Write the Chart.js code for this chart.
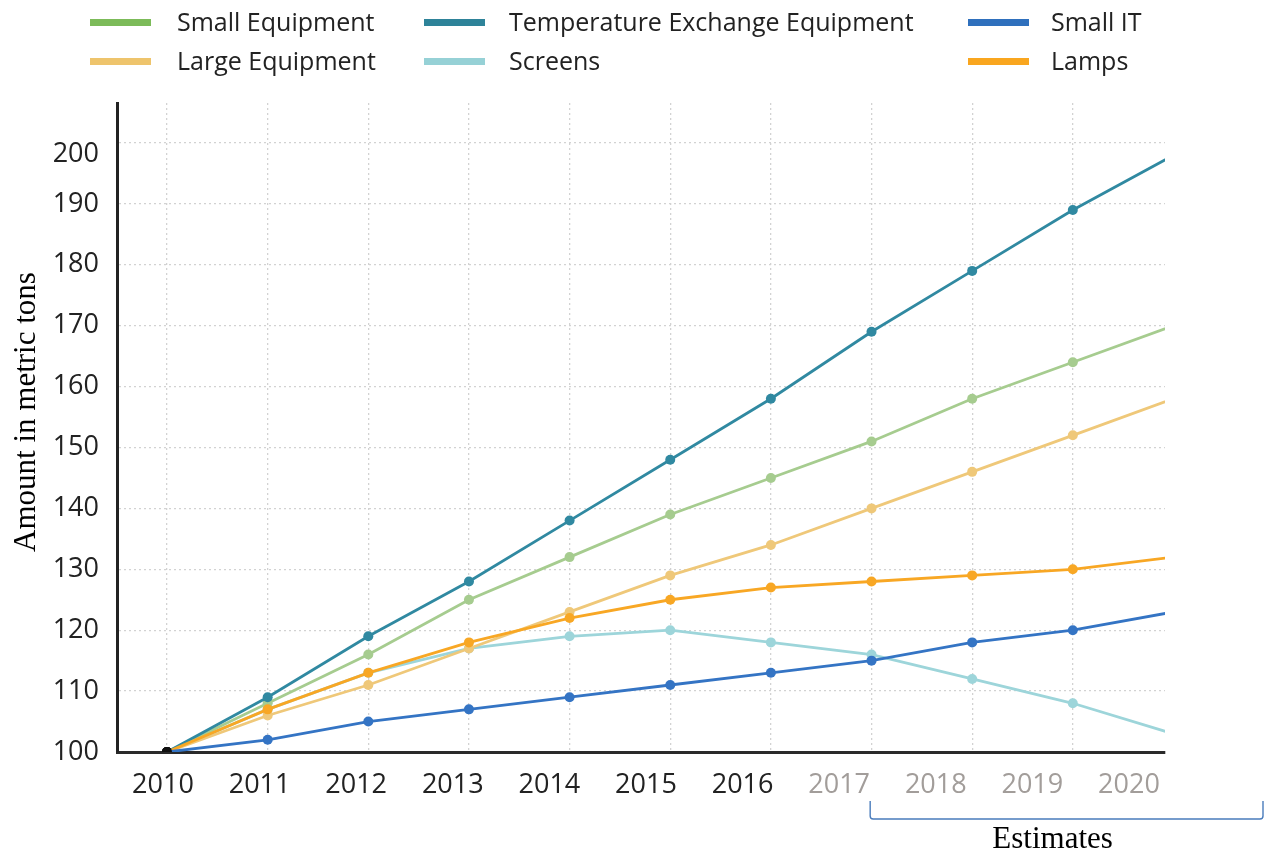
<!DOCTYPE html>
<html>
<head>
<meta charset="utf-8">
<script src="https://cdn.jsdelivr.net/npm/chart.js@4"></script>
<style>
  html, body { margin: 0; padding: 0; background: #fff; }
  #wrap { position: relative; width: 1265px; height: 852px; }
  .leg { position: absolute; font-family: "Open Sans", sans-serif; font-size: 25px; color: #222; white-space: nowrap; }
  .leg .sw { position: absolute; width: 61px; height: 7px; }
  .leg .tx { position: absolute; line-height: 30px; }
</style>
</head>
<body>
<div id="wrap"><canvas id="c"></canvas></div>
<script>
// ---- data ----
const years = [2010, 2011, 2012, 2013, 2014, 2015, 2016, 2017, 2018, 2019, 2020];
const yearLabels = ['2010', '2011', '2012', '2013', '2014', '2015', '2016', '2017', '2018', '2019', '2020'];
const estimateFromYear = 2017;
const seriesNames = ['Small Equipment', 'Large Equipment', 'Temperature Exchange Equipment', 'Screens', 'Small IT', 'Lamps'];
const smallEquipment = [100, 108, 116, 125, 132, 139, 145, 151, 158, 164, 170];
const largeEquipment = [100, 106, 111, 117, 123, 129, 134, 140, 146, 152, 158];
const temperatureExchange = [100, 109, 119, 128, 138, 148, 158, 169, 179, 189, 198];
const screens = [100, 107, 113, 117, 119, 120, 118, 116, 112, 108, 103];
const smallIT = [100, 102, 105, 107, 109, 111, 113, 115, 118, 120, 123];
const lamps = [100, 107, 113, 118, 122, 125, 127, 128, 129, 130, 132];
const yTickValues = [100, 110, 120, 130, 140, 150, 160, 170, 180, 190, 200];

// ---- styles ----
const lineColors = ['#a6cc8f', '#efc879', '#3089a1', '#9dd5da', '#3474c4', '#f8a724'];
const legendColors = ['#7cbb59', '#eec46c', '#2e8399', '#96d1d6', '#2f70bd', '#f9a61f'];
const seriesData = [smallEquipment, largeEquipment, temperatureExchange, screens, smallIT, lamps];
const drawOrder = [4, 5, 3, 6, 1, 2];

const datasets = seriesNames.map((name, i) => ({
  label: name,
  data: years.map((y, k) => ({ x: y, y: seriesData[i][k] })),
  borderColor: lineColors[i],
  backgroundColor: lineColors[i],
  pointBackgroundColor: ctx => ctx.dataIndex === 0 ? '#111' : lineColors[i],
  pointBorderColor: ctx => ctx.dataIndex === 0 ? '#111' : lineColors[i],
  borderWidth: 2.8,
  pointRadius: 5,
  pointBorderWidth: 0,
  tension: 0,
  clip: 0,
  order: drawOrder[i]
}));

const overlay = {
  id: 'overlay',
  afterDraw(chart) {
    const ctx = chart.ctx;
    ctx.save();
    // y axis title
    ctx.translate(35, 412);
    ctx.rotate(-Math.PI / 2);
    ctx.font = '31px "Liberation Serif", "Times New Roman", serif';
    ctx.fillStyle = '#000';
    ctx.textAlign = 'center';
    ctx.textBaseline = 'alphabetic';
    ctx.fillText('Amount in metric tons', 0, 0);
    ctx.restore();

    // estimates bracket
    const xs = chart.scales.x2;
    const left = xs.getPixelForValue(estimateFromYear) + 31;
    const right = 1263;
    ctx.save();
    ctx.strokeStyle = '#4a7cbc';
    ctx.lineWidth = 1.4;
    ctx.beginPath();
    ctx.moveTo(left, 801);
    ctx.lineTo(left, 816);
    ctx.quadraticCurveTo(left, 819, left + 3, 819);
    ctx.lineTo(right - 3, 819);
    ctx.quadraticCurveTo(right, 819, right, 816);
    ctx.lineTo(right, 801);
    ctx.stroke();
    ctx.font = '31px "Liberation Serif", "Times New Roman", serif';
    ctx.fillStyle = '#000';
    ctx.textAlign = 'center';
    ctx.textBaseline = 'alphabetic';
    ctx.fillText('Estimates', (left + right) / 2 - 14, 848);
    ctx.restore();
  }
};

new Chart(document.getElementById('c'), {
  type: 'line',
  data: { datasets },
  options: {
    responsive: true,
    maintainAspectRatio: false,
    animation: false,
    layout: { padding: { left: 0, right: 100, top: 103, bottom: 0 } },
    plugins: { legend: { display: false }, tooltip: { enabled: false } },
    scales: {
      x: {
        type: 'linear',
        position: 'bottom',
        min: 2009.503,
        max: 2019.916,
        afterFit: s => { s.height = 0; },
        ticks: { display: false, stepSize: 1, includeBounds: false },
        grid: { color: '#d2d2d2', lineWidth: 1.3, drawTicks: false },
        border: { display: true, color: '#2a2a2a', width: 3, dash: [2, 3] }
      },
      x2: {
        type: 'linear',
        position: 'bottom',
        min: 2009.524,
        max: 2020.373,
        afterFit: s => { s.height = 100; },
        afterBuildTicks: s => { s.ticks = years.map(v => ({ value: v })); },
        ticks: {
          autoSkip: false,
          maxRotation: 0,
          padding: 17,
          font: { family: '"Open Sans", sans-serif', size: 27 },
          color: ctx => ctx.tick && ctx.tick.value >= estimateFromYear ? '#a29d9a' : '#222',
          callback: (v, i) => yearLabels[i]
        },
        grid: { display: false, drawTicks: false },
        border: { display: false }
      },
      y: {
        type: 'linear',
        position: 'left',
        min: 100,
        max: 206.57,
        afterFit: s => { s.width = 117; },
        afterBuildTicks: s => { s.ticks = yTickValues.map(v => ({ value: v })); },
        ticks: {
          padding: 18,
          font: { family: '"Open Sans", sans-serif', size: 27, lineHeight: '22px' },
          color: '#222',
          callback: v => v === 200 ? ['', String(v)] : String(v)
        },
        grid: { color: '#d2d2d2', lineWidth: 1.3, drawTicks: false },
        border: { display: true, color: '#222', width: 3, dash: [2, 3] }
      }
    }
  },
  plugins: [overlay]
});

// ---- HTML legend (3 columns x 2 rows) ----
const legendLayout = [
  { idx: 0, sx: 90, tx: 177, row: 0 },
  { idx: 1, sx: 90, tx: 177, row: 1 },
  { idx: 2, sx: 424, tx: 509, row: 0 },
  { idx: 3, sx: 424, tx: 509, row: 1 },
  { idx: 4, sx: 968, tx: 1051, row: 0 },
  { idx: 5, sx: 968, tx: 1051, row: 1 }
];
const rowY = [22, 61];
const wrap = document.getElementById('wrap');
legendLayout.forEach(l => {
  const d = document.createElement('div');
  d.className = 'leg';
  d.style.left = '0px'; d.style.top = '0px';
  const sw = document.createElement('div');
  sw.className = 'sw';
  sw.style.left = l.sx + 'px';
  sw.style.top = (rowY[l.row] - 3.5) + 'px';
  sw.style.background = legendColors[l.idx];
  const tx = document.createElement('div');
  tx.className = 'tx';
  tx.style.left = l.tx + 'px';
  tx.style.top = (rowY[l.row] - 16) + 'px';
  tx.textContent = seriesNames[l.idx];
  d.appendChild(sw); d.appendChild(tx);
  wrap.appendChild(d);
});
</script>
</body>
</html>
